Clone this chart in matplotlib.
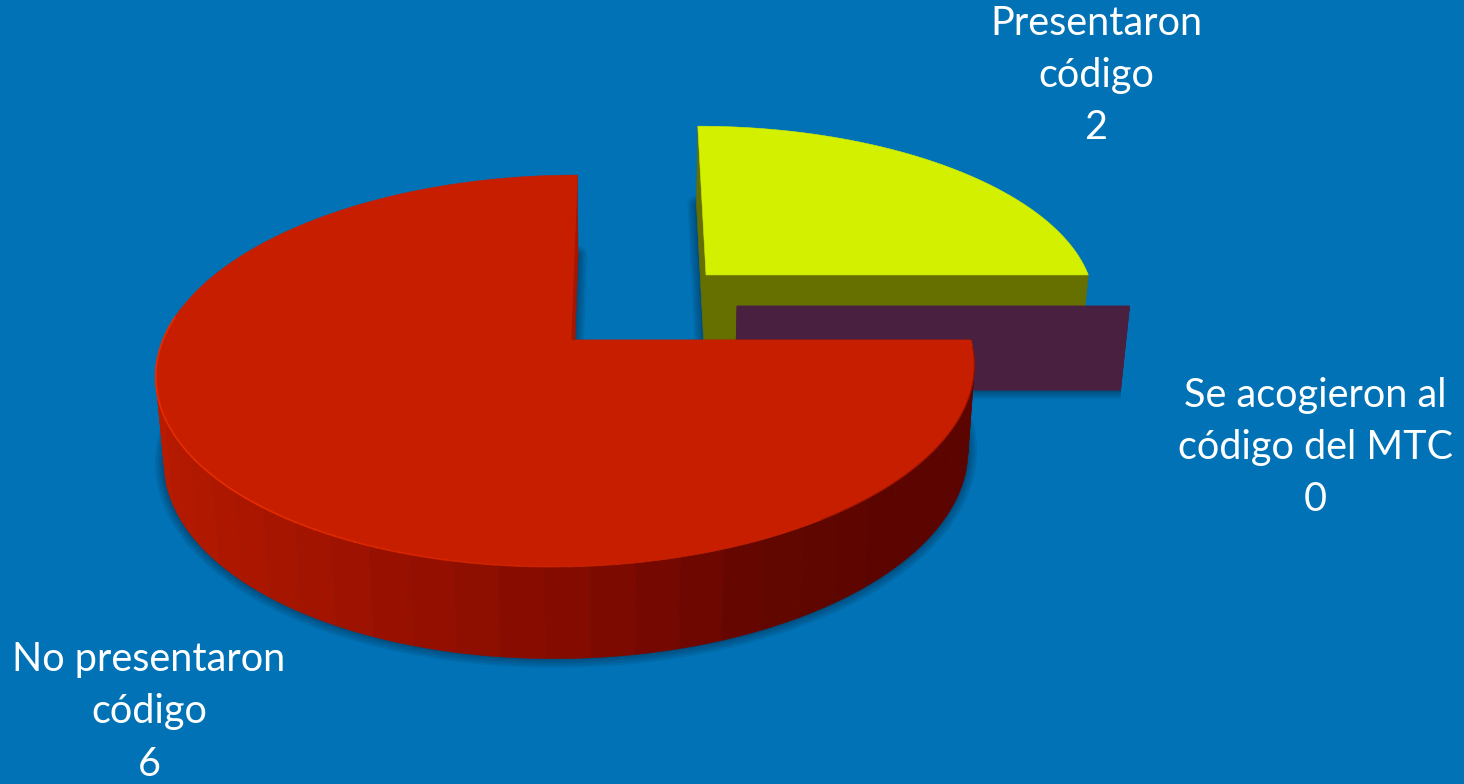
import numpy as np
import matplotlib
matplotlib.use("Agg")
import matplotlib.pyplot as plt
from matplotlib.patches import Polygon

categories = ["Presentaron\ncódigo", "Se acogieron al\ncódigo del MTC", "No presentaron\ncódigo"]
values = [2, 0, 6]

top_colors = ["#D3F000", "#4A2040", "#C81E00"]
side_colors = ["#667000", "#4A2040", "#A81500"]
explode_uv = [(0.353, 0.36), (0.4275, 0.183), (0.0, 0.0)]
apex_shift = [0.0, 0.0, 0.01]
label_xy = [(1096, 75), (1315, 447), (149, 712)]

BG = "#0072B5"
CX, CY, A, B, K, S = 567, 340, 404, 191, 0.158, 12

fig = plt.figure(figsize=(14.64, 7.84), dpi=100, facecolor=BG)
ax = fig.add_axes([0, 0, 1, 1])
ax.set_xlim(0, 1464)
ax.set_ylim(784, 0)
ax.axis("off")


def proj(u, v):
    u, v = np.asarray(u, float), np.asarray(v, float)
    d = 1 + K * v
    return CX + (A * u + S * v) / d, CY - B * v / d


def down(x, y):
    dy = 85 + (y - 340) * 0.03
    return x - (x - 620) * 0.00021 * dy, y + dy


def rim(theta, off):
    t = np.radians(theta)
    return proj(off[0] + np.cos(t), off[1] + np.sin(t))


def poly(x, y, color, z, **kw):
    ax.add_patch(Polygon(np.column_stack([x, y]), closed=True, facecolor=color,
                         edgecolor=kw.pop("edge", color), linewidth=kw.pop("lw", 0.4), zorder=z, **kw))


def side_shade(theta):
    return np.array([np.interp(theta, [-190, -165, -131, -105, -85, -65, -45, 0], c)
                     for c in ([186, 186, 170, 148, 128, 100, 92, 92],
                               [28, 28, 22, 15, 10, 6, 5, 5],
                               [0, 0, 0, 0, 0, 0, 0, 0])]) / 255


def blur(x, y, z):
    for lw in (13, 10, 7, 4, 2):
        ax.add_patch(Polygon(np.column_stack([x, y]), closed=True, fill=False, edgecolor="#00263F",
                             alpha=0.11, linewidth=lw, joinstyle="round", zorder=z))


total = sum(values)
starts = 90 - 360 * np.cumsum([0] + values[:-1]) / total
ends = 90 - 360 * np.cumsum(values) / total
layer = {0: 2, 1: 4, 2: 6}

for i, (st, en) in enumerate(zip(starts, ends)):
    z = layer[i]
    off = explode_uv[i]
    ax_, ay_ = proj(off[0] + apex_shift[i], off[1])
    dax, day = down(ax_, ay_)
    th = np.linspace(st, en, max(2, int(abs(st - en) * 2) + 2))
    rx, ry = rim(th, off)
    bx, by = down(rx, ry)

    # soft shadow round the foot of the slice
    blur(np.r_[dax, bx], np.r_[day, by], z - 0.5)

    # radial faces
    sx, sy = rx[0], ry[0]
    dsx, dsy = down(sx, sy)
    poly([ax_, sx, dsx, dax], [ay_, sy, dsy, day], side_colors[i], z)
    ex, ey = rx[-1], ry[-1]
    dex, dey = down(ex, ey)
    poly([ax_, ex, dex, dax], [ay_, ey, dey, day], side_colors[i], z)

    # outer wall in shaded strips
    edges = np.arange(-190, 1, 5.5)
    for a0, a1 in zip(edges[:-1], edges[1:]):
        lo, hi = max(a0, min(st, en)), min(a1, max(st, en))
        if hi <= lo or values[i] == 0:
            continue
        tt = np.linspace(lo, hi, 6)
        px, py = rim(tt, off)
        qx, qy = down(px, py)
        c = side_shade((lo + hi) / 2) if i == 2 else side_colors[i]
        poly(np.r_[px, qx[::-1]], np.r_[py, qy[::-1]], c, z + 0.1)

    # top face
    if values[i] > 0:
        poly(np.r_[ax_, rx], np.r_[ay_, ry], top_colors[i], z + 0.2)
    if i == 2:
        seg = np.linspace(-187, -70, 40)
        for s0, s1 in zip(seg[:-1], seg[1:]):
            hx, hy = rim(np.linspace(s0, s1, 5), off)
            fade = float(np.clip((-70 - s1) / 60, 0, 1))
            ax.plot(hx, hy, color="#E62C00", lw=1.2, alpha=fade, zorder=z + 0.3)
        dx_, dy_ = rim(np.linspace(-55, -2, 60), off)
        ax.plot(dx_, dy_, color="#8E1000", lw=0.9, alpha=0.7, zorder=z + 0.3)

for name, val, (x, y) in zip(categories, values, label_xy):
    ax.text(x, y, f"{name}\n{val}", color="white", ha="center", va="center", family="Lato",
            fontsize=28.5, linespacing=1.5, zorder=10)

fig.savefig("out.png", dpi=100, facecolor=BG)
